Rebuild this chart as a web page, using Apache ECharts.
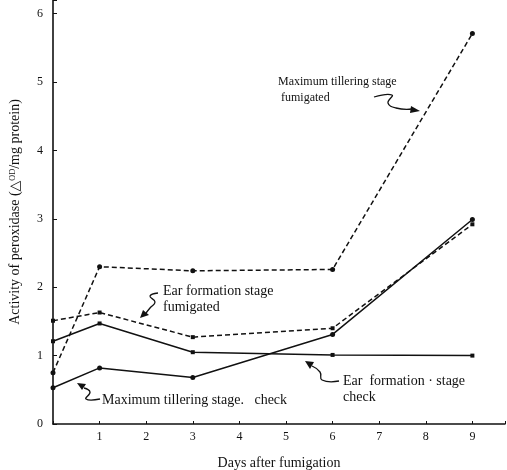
<!DOCTYPE html>
<html>
<head>
<meta charset="utf-8">
<script src="https://cdn.jsdelivr.net/npm/echarts@6/dist/echarts.min.js"></script>
<style>
html, body { margin: 0; padding: 0; background: #fff; }
#main { width: 507px; height: 470px; }
</style>
</head>
<body>
<div id="main"></div>
<script>
// days after fumigation
var days = [0, 1, 3, 6, 9];
// peroxidase activity
var maxTillerFumigated = [0.75, 2.30, 2.24, 2.26, 5.71];
var earFormFumigated = [1.51, 1.63, 1.27, 1.40, 2.92];
var maxTillerCheck = [0.53, 0.82, 0.68, 1.31, 2.99];
var earFormCheck = [1.21, 1.47, 1.05, 1.01, 1.00];
var xTicks = [1, 2, 3, 4, 5, 6, 7, 8, 9];
var yTicks = [0, 1, 2, 3, 4, 5, 6];

var serif = '"Liberation Serif", "DejaVu Serif", serif';

function pairs(vals) {
	return days.map(function (d, i) { return [d, vals[i]]; });
}

function line(name, vals, dashed, symbol) {
	return {
		name: name,
		type: 'line',
		data: pairs(vals),
		symbol: symbol,
		symbolSize: symbol == 'circle' ? 5 : 4,
		itemStyle: { color: '#111' },
		lineStyle: { color: '#111', width: 1.5, type: dashed ? [5, 3] : 'solid' },
		animation: false
	};
}

// curly annotation arrow
function arrow(points, head) {
	return [{
		type: 'polyline',
		shape: { points: points, smooth: 0.5 },
		style: { stroke: '#111', lineWidth: 1.3, fill: null }
	}, {
		type: 'polygon',
		shape: { points: head },
		style: { fill: '#111' }
	}];
}

function label(x, y, text, size) {
	return {
		type: 'text', x: x, y: y,
		style: { text: text, font: size + 'px ' + serif, fill: '#111', lineHeight: 16 }
	};
}

var myChart = echarts.init(document.getElementById('main'));

var option = {
	backgroundColor: '#fff',
	grid: { left: 53, right: 2, top: 0, bottom: 46, outerBoundsMode: 'none' },
	xAxis: {
		type: 'value', min: 0, max: 9.7, interval: 1,
		name: 'Days after fumigation', nameLocation: 'middle', nameGap: 32,
		nameTextStyle: { fontFamily: serif, fontSize: 14, color: '#111' },
		axisLine: { lineStyle: { color: '#111', width: 1.5 } },
		axisTick: { inside: true, length: 3, lineStyle: { color: '#111' } },
		axisLabel: {
			fontFamily: serif, fontSize: 12, color: '#111', margin: 7,
			formatter: function (v) { return xTicks.indexOf(v) >= 0 ? String(v) : ''; }
		},
		splitLine: { show: false }
	},
	yAxis: {
		type: 'value', min: 0, max: 6.2, interval: 1,
		name: 'Activity of peroxidase (\u25B3\u1D3C\u1D30/mg protein)',
		nameLocation: 'middle', nameGap: 31, nameRotate: 90,
		nameTextStyle: { fontFamily: serif, fontSize: 14, color: '#111' },
		axisLine: { lineStyle: { color: '#111', width: 1.6 } },
		axisTick: { inside: true, length: 4, lineStyle: { color: '#111' } },
		axisLabel: {
			fontFamily: serif, fontSize: 12, color: '#111', margin: 10,
			formatter: function (v) { return yTicks.indexOf(v) >= 0 ? String(v) : ''; }
		},
		splitLine: { show: false }
	},
	series: [
		line('Maximum tillering stage fumigated', maxTillerFumigated, true, 'circle'),
		line('Ear formation stage fumigated', earFormFumigated, true, 'rect'),
		line('Maximum tillering stage check', maxTillerCheck, false, 'circle'),
		line('Ear formation stage check', earFormCheck, false, 'rect')
	],
	graphic: [
		label(278, 74, 'Maximum tillering stage\n fumigated', 12),
		label(163, 283, 'Ear formation stage\nfumigated', 14),
		label(102, 392, 'Maximum tillering stage.   check', 14),
		label(343, 373, 'Ear  formation \u00B7 stage\ncheck', 14)
	].concat(
		arrow([[374, 97], [392, 95], [388, 103], [396, 108], [412, 109]], [[420, 111], [411, 106], [410, 113]]),
		arrow([[158, 293], [150, 296], [155, 302], [150, 308], [146, 313]], [[140, 318], [143, 310], [149, 315]]),
		arrow([[100, 399], [86, 399], [90, 392], [84, 388]], [[77, 383], [86, 384], [82, 390]]),
		arrow([[339, 381], [322, 380], [320, 372], [312, 366]], [[305, 361], [314, 362], [310, 369]])
	)
};

myChart.setOption(option);
</script>
</body>
</html>
